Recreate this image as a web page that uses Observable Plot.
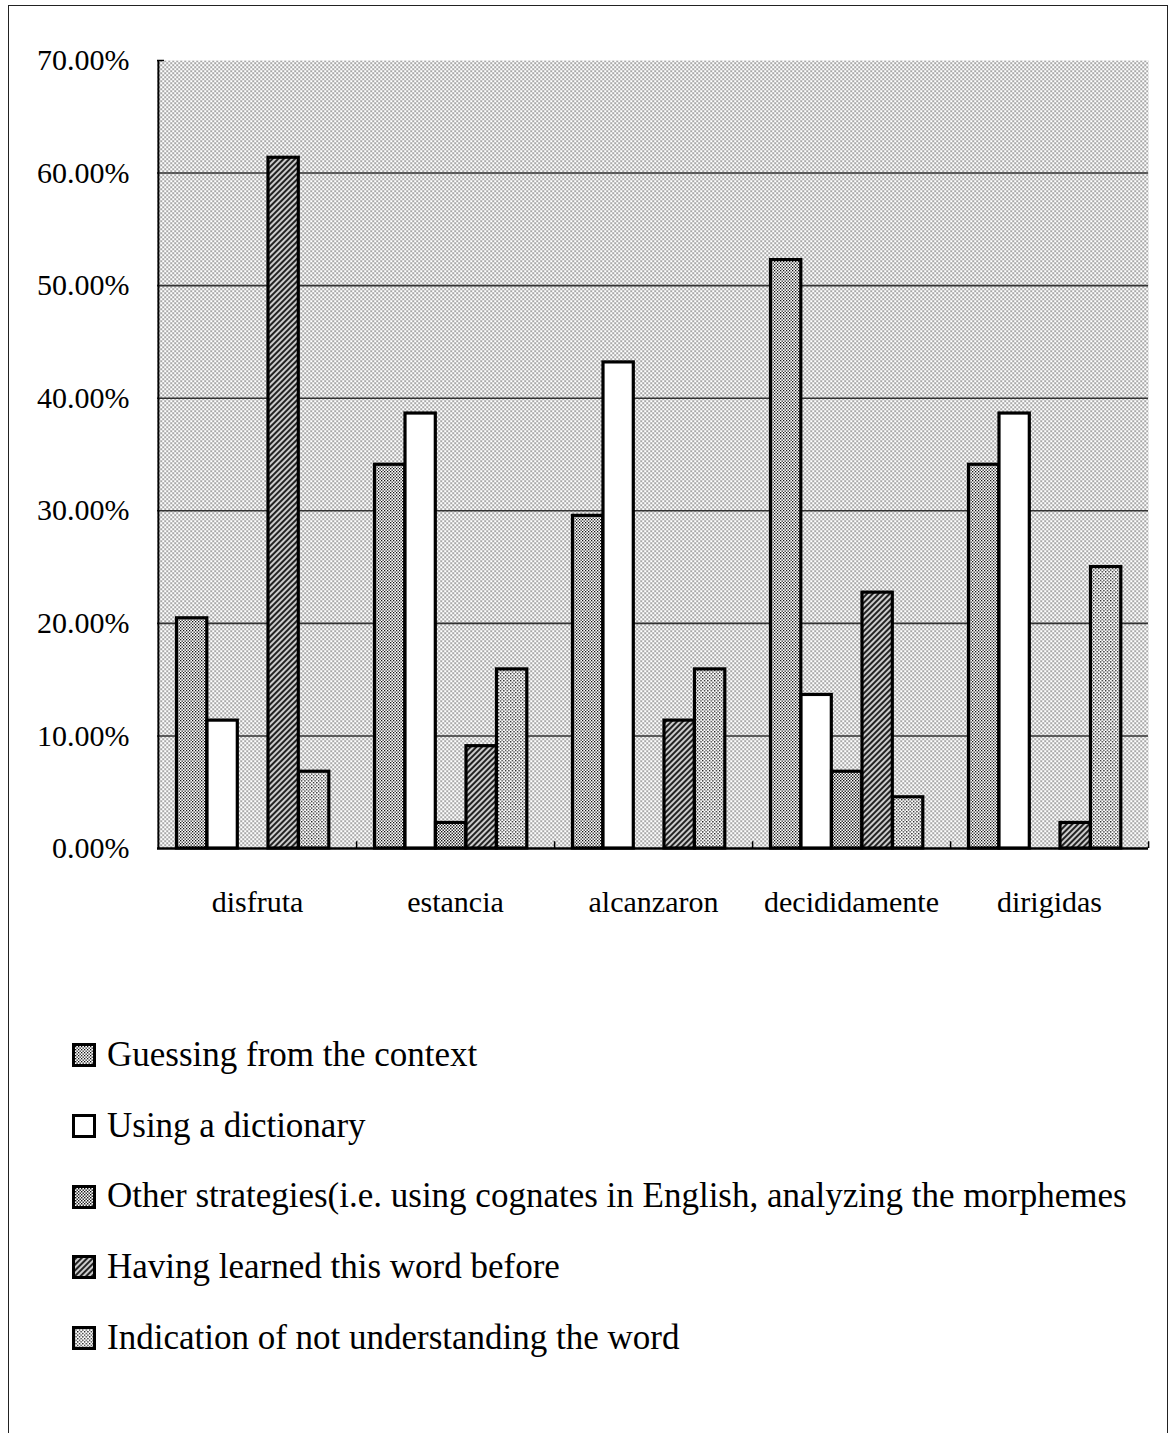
<!DOCTYPE html>
<html>
<head>
<meta charset="utf-8">
<script src="https://cdn.jsdelivr.net/npm/d3@7"></script>
<script src="https://cdn.jsdelivr.net/npm/@observablehq/plot@0.6"></script>
<style>
  html, body { margin: 0; padding: 0; background: #fff; }
  body { width: 1170px; height: 1433px; position: relative; overflow: hidden; font-family: "Liberation Serif", "DejaVu Serif", serif; }
  #border { position: absolute; left: 8px; top: 5px; width: 1158px; height: 1450px; border: 1.5px solid #222; }
  #chart { position: absolute; left: 0; top: 0; }
  #legend { position: absolute; left: 72px; top: 1020px; }
  .row { height: 70.7px; line-height: 70.7px; font-size: 35px; color: #000; white-space: nowrap; display: flex; align-items: center; }
  .row svg { margin-right: 11px; flex: none; }
  #defs { position: absolute; width: 0; height: 0; }
</style>
</head>
<body>
<svg id="defs" width="0" height="0">
  <defs>
    <pattern id="bg" patternUnits="userSpaceOnUse" width="4" height="4">
      <rect width="4" height="4" fill="#fff"/>
      <rect x="0" y="0" width="1.3" height="1.3" fill="#333"/>
      <rect x="2" y="2" width="1.3" height="1.3" fill="#333"/>
    </pattern>
    <pattern id="dense" patternUnits="userSpaceOnUse" width="3" height="3">
      <rect width="3" height="3" fill="#fff"/>
      <rect x="0" y="0" width="1.3" height="1.3" fill="#111"/>
      <rect x="1.5" y="1.5" width="1.3" height="1.3" fill="#111"/>
    </pattern>
    <pattern id="cross" patternUnits="userSpaceOnUse" width="3" height="3">
      <rect width="3" height="3" fill="#fff"/>
      <rect x="0" y="0" width="1.4" height="1.4" fill="#111"/>
      <rect x="1.5" y="1.5" width="1.4" height="1.4" fill="#111"/>
    </pattern>
    <pattern id="light" patternUnits="userSpaceOnUse" width="3.4" height="3.4">
      <rect width="3.4" height="3.4" fill="#fff"/>
      <rect x="0" y="0" width="1.3" height="1.3" fill="#111"/>
      <rect x="1.7" y="1.7" width="1.3" height="1.3" fill="#111"/>
    </pattern>
    <pattern id="hatch" patternUnits="userSpaceOnUse" width="4" height="4" patternTransform="rotate(45)">
      <rect width="4" height="4" fill="#ccc"/>
      <rect x="0" y="0" width="2" height="4" fill="#222"/>
    </pattern>
  </defs>
</svg>
<div id="border"></div>
<div id="chart"></div>
<div id="legend"></div>
<script>
// Words tested and the share of 44 answers given for each strategy
const words = ["disfruta", "estancia", "alcanzaron", "decididamente", "dirigidas"];
const strategies = [
  "Guessing from the context",
  "Using a dictionary",
  "Other strategies(i.e. using cognates in English, analyzing the morphemes",
  "Having learned this word before",
  "Indication of not understanding the word"
];
const guessing      = [20.45, 34.09, 29.55, 52.27, 34.09];
const dictionary    = [11.36, 38.64, 43.18, 13.64, 38.64];
const otherStrategy = [0.00, 2.27, 0.00, 6.82, 0.00];
const learnedBefore = [61.36, 9.09, 11.36, 22.73, 2.27];
const notUnderstood = [6.82, 15.91, 15.91, 4.55, 25.00];
const yTicks = [0, 10, 20, 30, 40, 50, 60, 70];

const seriesValues = [guessing, dictionary, otherStrategy, learnedBefore, notUnderstood];
const fills = ["url(#dense)", "#fff", "url(#cross)", "url(#hatch)", "url(#light)"];

const rows = strategies.flatMap((s, i) =>
  words.map((w, j) => ({word: w, strategy: s, index: i, value: seriesValues[i][j]}))
);

const width = 1170, marginLeft = 157, marginRight = 22;
const bw = (width - marginLeft - marginRight) / words.length;
const barW = 30.5, barOffset = 18.5;

const barMarks = strategies.map((s, i) =>
  Plot.barY(rows.filter(d => d.index === i && d.value > 0), {
    x: "word",
    y: "value",
    fill: fills[i],
    stroke: "#000",
    strokeWidth: 3.2,
    insetLeft: barOffset + barW * i,
    insetRight: bw - (barOffset + barW * (i + 1))
  })
);

const chart = Plot.plot({
  width,
  height: 918,
  marginLeft,
  marginRight,
  marginTop: 60,
  marginBottom: 70,
  style: {fontFamily: "'Liberation Serif', serif", color: "#000", background: "transparent"},
  x: {domain: words, padding: 0, label: null},
  y: {domain: [0, 70], label: null},
  marks: [
    Plot.frame({fill: "url(#bg)", stroke: null}),
    Plot.ruleY(yTicks.filter(t => t > 0 && t < 70), {stroke: "#333", strokeWidth: 1.6}),
    ...barMarks,
    Plot.ruleY([0], {stroke: "#000", strokeWidth: 2.5}),
    Plot.ruleX([words[0]], {y1: 0, y2: 70, dx: -bw / 2, stroke: "#000", strokeWidth: 2}),
    Plot.ruleX(words, {y1: 0, y2: 0.6, dx: bw / 2, stroke: "#000", strokeWidth: 1.5}),
    // short inward tick at the top of the value axis
    Plot.axisY({ticks: [70], tickSize: 7, dx: 7, tickFormat: () => "", label: null, strokeWidth: 1.5}),
    Plot.axisY({ticks: yTicks, tickSize: 0, tickPadding: 28, fontSize: 30,
                tickFormat: d => d.toFixed(2) + "%", label: null}),
    Plot.axisX({tickSize: 0, tickPadding: 42, fontSize: 30, label: null})
  ]
});
document.getElementById("chart").appendChild(chart);

// Legend listed below the plot, one strategy per line
const legend = document.getElementById("legend");
strategies.forEach((s, i) => {
  const row = document.createElement("div");
  row.className = "row";
  row.innerHTML = `<svg width="24" height="24"><rect x="1.5" y="1.5" width="21" height="21" fill="${fills[i]}" stroke="#000" stroke-width="3"/></svg><span>${s}</span>`;
  legend.appendChild(row);
});
</script>
</body>
</html>
